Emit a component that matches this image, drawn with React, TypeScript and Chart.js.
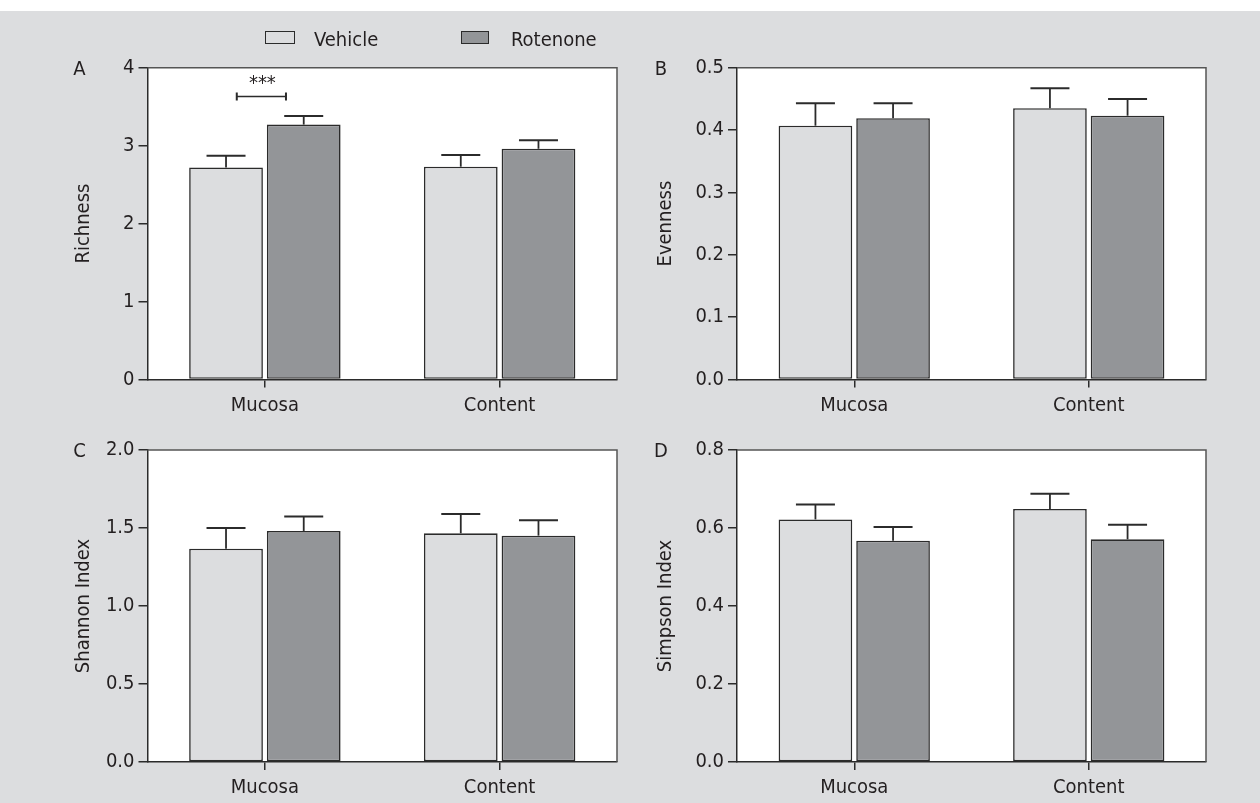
import React, { useEffect, useRef } from 'react';
import { Chart, registerables } from 'chart.js';
Chart.register(...registerables);

// ---------- data ----------
const categories = ['Mucosa', 'Content'];
const seriesNames = ['Vehicle', 'Rotenone'];

const richnessVehicle = [2.72, 2.73];
const richnessVehicleErr = [0.15, 0.15];
const richnessRotenone = [3.27, 2.96];
const richnessRotenoneErr = [0.11, 0.11];
const richnessTickLabels = ['0', '1', '2', '3', '4'];

const evennessVehicle = [0.407, 0.435];
const evennessVehicleErr = [0.036, 0.032];
const evennessRotenone = [0.419, 0.423];
const evennessRotenoneErr = [0.024, 0.027];
const evennessTickLabels = ['0.0', '0.1', '0.2', '0.3', '0.4', '0.5'];

const shannonVehicle = [1.367, 1.466];
const shannonVehicleErr = [0.133, 0.124];
const shannonRotenone = [1.481, 1.451];
const shannonRotenoneErr = [0.092, 0.098];
const shannonTickLabels = ['0.0', '0.5', '1.0', '1.5', '2.0'];

const simpsonVehicle = [0.622, 0.649];
const simpsonVehicleErr = [0.038, 0.039];
const simpsonRotenone = [0.5675, 0.571];
const simpsonRotenoneErr = [0.035, 0.0375];
const simpsonTickLabels = ['0.0', '0.2', '0.4', '0.6', '0.8'];

const significanceLabel = '***';
const significanceValue = 3.63;

// ---------- style ----------
const PAGE_BG = '#dcdddf';
const VEHICLE_FILL = '#dcdddf';
const ROTENONE_FILL = '#939598';
const INK = '#2b2b2b';
const TEXT = '#231f20';
const FRAME = '#555555';

function detectFont(): { family: string; size: number } {
  try {
    const ctx = document.createElement('canvas').getContext('2d');
    if (!ctx) return { family: '"Liberation Sans", Arial, sans-serif', size: 20 };
    const s = 'Richness Mucosa 0.123 Wg';
    const cands: [string, number][] = [
      ['Liberation Sans Narrow', 24],
      ['Arial Narrow', 24],
      ['Nimbus Sans Narrow', 24],
      ['DejaVu Sans Condensed', 20],
    ];
    for (const [name, size] of cands) {
      let ok = true;
      for (const fb of ['monospace', 'serif']) {
        ctx.font = `24px ${fb}`;
        const base = ctx.measureText(s).width;
        ctx.font = `24px "${name}", ${fb}`;
        const w = ctx.measureText(s).width;
        if (Math.abs(w - base) < 0.5) ok = false;
      }
      if (ok) return { family: `"${name}", "Liberation Sans", Arial, sans-serif`, size };
    }
  } catch (e) {}
  return { family: '"Liberation Sans", Arial, sans-serif', size: 20 };
}
const FONT = detectFont();

type Spec = {
  key: string;
  cx: number; cy: number; cw: number; ch: number;
  area: { left: number; top: number; right: number; bottom: number };
  titleCenter: number;
  title: string;
  vehicle: number[]; vehicleErr: number[];
  rotenone: number[]; rotenoneErr: number[];
  max: number; step: number; tickLabels: string[];
  sig?: boolean;
};

const specs: Spec[] = [
  {
    key: 'A', cx: 56, cy: 50, cw: 580, ch: 380,
    area: { left: 147.5, top: 67.7, right: 617, bottom: 379.5 },
    titleCenter: 84, title: 'Richness',
    vehicle: richnessVehicle, vehicleErr: richnessVehicleErr,
    rotenone: richnessRotenone, rotenoneErr: richnessRotenoneErr,
    max: 4, step: 1, tickLabels: richnessTickLabels, sig: true,
  },
  {
    key: 'B', cx: 636, cy: 50, cw: 600, ch: 380,
    area: { left: 737, top: 67.7, right: 1206, bottom: 379.5 },
    titleCenter: 666, title: 'Evenness',
    vehicle: evennessVehicle, vehicleErr: evennessVehicleErr,
    rotenone: evennessRotenone, rotenoneErr: evennessRotenoneErr,
    max: 0.5, step: 0.1, tickLabels: evennessTickLabels,
  },
  {
    key: 'C', cx: 56, cy: 432, cw: 580, ch: 371,
    area: { left: 147.5, top: 450, right: 617, bottom: 762 },
    titleCenter: 84, title: 'Shannon Index',
    vehicle: shannonVehicle, vehicleErr: shannonVehicleErr,
    rotenone: shannonRotenone, rotenoneErr: shannonRotenoneErr,
    max: 2, step: 0.5, tickLabels: shannonTickLabels,
  },
  {
    key: 'D', cx: 636, cy: 432, cw: 600, ch: 371,
    area: { left: 737, top: 450, right: 1206, bottom: 762 },
    titleCenter: 666, title: 'Simpson Index',
    vehicle: simpsonVehicle, vehicleErr: simpsonVehicleErr,
    rotenone: simpsonRotenone, rotenoneErr: simpsonRotenoneErr,
    max: 0.8, step: 0.2, tickLabels: simpsonTickLabels,
  },
];

const areaPlugin = {
  id: 'plotArea',
  beforeDraw(chart: any) {
    const { ctx, chartArea: a } = chart;
    ctx.save();
    ctx.fillStyle = '#ffffff';
    ctx.fillRect(a.left, a.top, a.right - a.left, a.bottom - a.top);
    ctx.restore();
  },
  afterDraw(chart: any) {
    const { ctx, chartArea: a } = chart;
    ctx.save();
    ctx.strokeStyle = FRAME;
    ctx.lineWidth = 1.5;
    ctx.beginPath();
    ctx.moveTo(a.left, a.top);
    ctx.lineTo(a.right, a.top);
    ctx.lineTo(a.right, a.bottom);
    ctx.stroke();
    ctx.restore();
  },
};

const errorPlugin = {
  id: 'errorBars',
  afterDatasetsDraw(chart: any) {
    const { ctx } = chart;
    const y = chart.scales.y;
    ctx.save();
    ctx.strokeStyle = INK;
    chart.data.datasets.forEach((ds: any, i: number) => {
      const meta = chart.getDatasetMeta(i);
      meta.data.forEach((el: any, j: number) => {
        const v = ds.data[j];
        const e = ds.errors[j];
        const top = y.getPixelForValue(v + e);
        ctx.lineWidth = 1.8;
        ctx.beginPath();
        ctx.moveTo(el.x, el.y);
        ctx.lineTo(el.x, top);
        ctx.stroke();
        ctx.lineWidth = 2;
        ctx.beginPath();
        ctx.moveTo(el.x - 19.5, top);
        ctx.lineTo(el.x + 19.5, top);
        ctx.stroke();
      });
    });
    ctx.restore();
  },
};

const sigPlugin = {
  id: 'significance',
  afterDatasetsDraw(chart: any, _args: any, opts: any) {
    if (!opts || !opts.show) return;
    const { ctx } = chart;
    const xs = chart.scales.x;
    const ys = chart.scales.y;
    const cx = xs.getPixelForValue(0) - 3.5;
    const yy = ys.getPixelForValue(significanceValue);
    const half = 24.6;
    ctx.save();
    ctx.strokeStyle = INK;
    ctx.lineWidth = 1.5;
    ctx.beginPath();
    ctx.moveTo(cx - half, yy);
    ctx.lineTo(cx + half, yy);
    ctx.stroke();
    ctx.lineWidth = 2;
    ctx.beginPath();
    ctx.moveTo(cx - half, yy - 4);
    ctx.lineTo(cx - half, yy + 4);
    ctx.moveTo(cx + half, yy - 4);
    ctx.lineTo(cx + half, yy + 4);
    ctx.stroke();
    ctx.fillStyle = TEXT;
    ctx.font = `${FONT.size}px ${FONT.family}`;
    ctx.textAlign = 'center';
    ctx.textBaseline = 'alphabetic';
    ctx.fillText(significanceLabel, cx + 1, yy - 8);
    ctx.restore();
  },
};

function Panel({ spec }: { spec: Spec }) {
  const ref = useRef<HTMLCanvasElement>(null);
  useEffect(() => {
    const font = { family: FONT.family, size: FONT.size };
    const lh = FONT.size * 1.2;
    const axisGrid = {
      display: true,
      drawOnChartArea: false,
      drawTicks: true,
      color: INK,
      lineWidth: 1.5,
    };
    const chart = new Chart(ref.current as HTMLCanvasElement, {
      type: 'bar',
      data: {
        labels: categories,
        datasets: [
          {
            label: seriesNames[0],
            data: spec.vehicle,
            errors: spec.vehicleErr,
            backgroundColor: VEHICLE_FILL,
            borderColor: INK,
            borderWidth: 1.6,
            borderSkipped: false,
            categoryPercentage: 0.662,
            barPercentage: 0.949,
          } as any,
          {
            label: seriesNames[1],
            data: spec.rotenone,
            errors: spec.rotenoneErr,
            backgroundColor: ROTENONE_FILL,
            borderColor: INK,
            borderWidth: 1.6,
            borderSkipped: false,
            categoryPercentage: 0.662,
            barPercentage: 0.949,
          } as any,
        ],
      },
      options: {
        responsive: false,
        animation: false,
        devicePixelRatio: 1,
        layout: {
          padding: {
            top: spec.area.top - spec.cy,
            right: spec.cx + spec.cw - spec.area.right,
            left: 0,
            bottom: 0,
          },
        },
        plugins: {
          legend: { display: false },
          tooltip: { enabled: false },
          significance: { show: !!spec.sig },
        } as any,
        scales: {
          x: {
            type: 'category',
            offset: true,
            grid: { ...axisGrid, offset: false, tickLength: 8 },
            border: { display: true, color: INK, width: 1.5 },
            ticks: { color: TEXT, font, padding: 6, maxRotation: 0, autoSkip: false },
            afterFit: (s: any) => {
              s.height = spec.cy + spec.ch - spec.area.bottom;
            },
          },
          y: {
            min: 0,
            max: spec.max,
            grid: { ...axisGrid, tickLength: 9 },
            border: { display: true, color: INK, width: 1.5 },
            ticks: {
              stepSize: spec.step,
              color: TEXT,
              font,
              padding: 4,
              callback: (_v: any, i: number) => spec.tickLabels[i],
            },
            title: {
              display: true,
              text: spec.title,
              color: TEXT,
              font,
              padding: { top: spec.titleCenter - spec.cx - lh / 2, bottom: 0 },
            },
            afterFit: (s: any) => {
              s.width = spec.area.left - spec.cx;
            },
          },
        } as any,
      },
      plugins: [areaPlugin, errorPlugin, sigPlugin],
    } as any);
    return () => chart.destroy();
  }, []);
  return (
    <canvas
      ref={ref}
      width={spec.cw}
      height={spec.ch}
      style={{ position: 'absolute', left: spec.cx, top: spec.cy, width: spec.cw, height: spec.ch }}
    />
  );
}

const textStyle: React.CSSProperties = {
  position: 'absolute',
  fontFamily: FONT.family,
  fontSize: FONT.size,
  lineHeight: 1,
  color: TEXT,
  whiteSpace: 'nowrap',
  transform: 'translateY(-50%)',
};

export default function App() {
  useEffect(() => {
    document.body.style.margin = '0';
  }, []);
  const letters = [
    { t: 'A', x: 79.5, y: 68 },
    { t: 'B', x: 661, y: 68 },
    { t: 'C', x: 79.5, y: 450 },
    { t: 'D', x: 661, y: 450 },
  ];
  return (
    <div style={{ position: 'fixed', left: 0, top: 0, width: 1260, height: 803, background: '#ffffff', overflow: 'hidden' }}>
      <div style={{ position: 'absolute', left: 0, top: 11, width: 1260, height: 792, background: PAGE_BG }} />
      {specs.map((s) => (
        <Panel key={s.key} spec={s} />
      ))}
      {letters.map((l) => (
        <div key={l.t} style={{ ...textStyle, left: l.x - 15, width: 30, textAlign: 'center', top: l.y }}>
          {l.t}
        </div>
      ))}
      <div style={{ position: 'absolute', left: 265, top: 31, width: 28, height: 11, background: VEHICLE_FILL, border: `1.5px solid ${INK}` }} />
      <div style={{ ...textStyle, left: 314, top: 39 }}>{seriesNames[0]}</div>
      <div style={{ position: 'absolute', left: 461, top: 31, width: 26, height: 11, background: ROTENONE_FILL, border: `1.5px solid ${INK}` }} />
      <div style={{ ...textStyle, left: 511, top: 39 }}>{seriesNames[1]}</div>
    </div>
  );
}
